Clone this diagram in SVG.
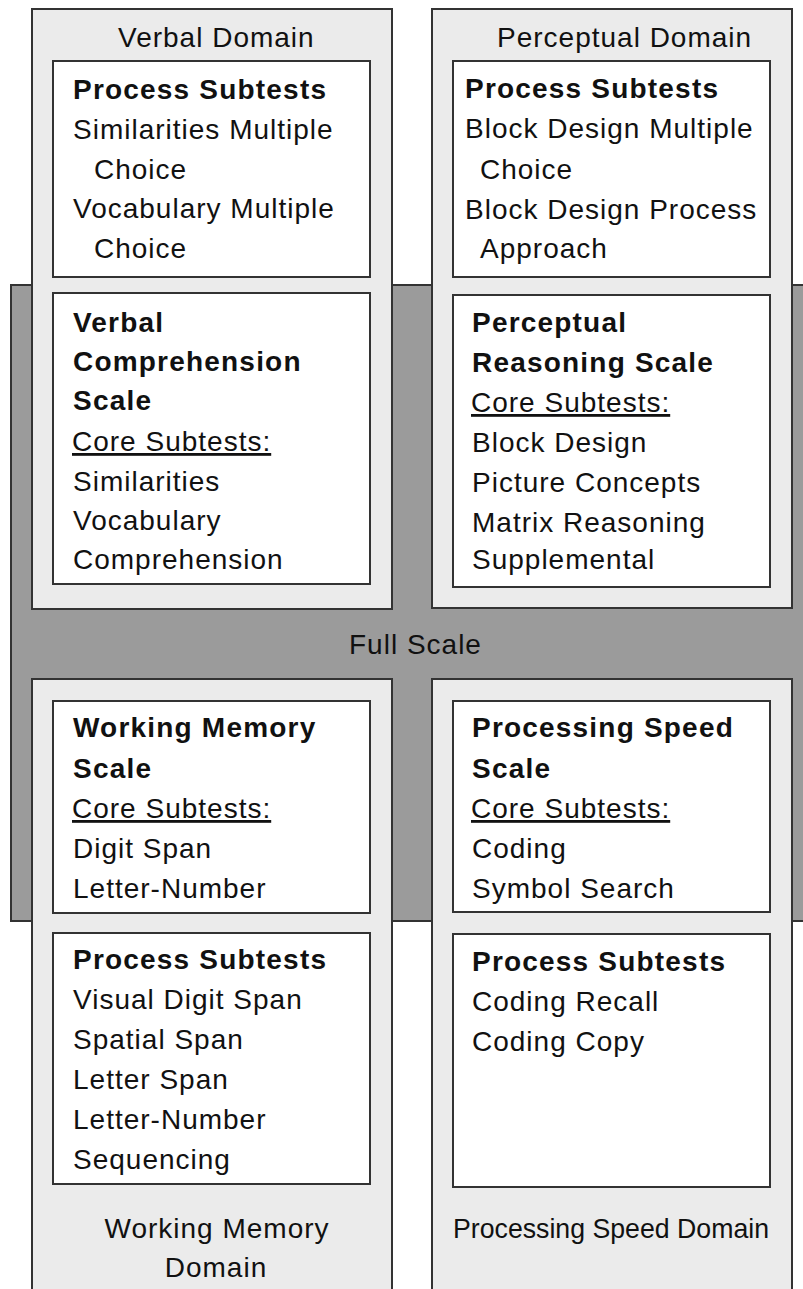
<svg xmlns="http://www.w3.org/2000/svg" width="803" height="1289" viewBox="0 0 803 1289">
  <style>
    text { font-family: "Liberation Sans", Arial, Helvetica, sans-serif; font-size: 28px; fill: #111; letter-spacing: 1px; }
    .b { font-weight: bold; letter-spacing: 1.2px; }
    .u { text-decoration: underline; }
    .band { fill: #9b9b9b; stroke: #333; stroke-width: 2; }
    .panel { fill: #ebebeb; stroke: #333; stroke-width: 2; }
    .box { fill: #fff; stroke: #333; stroke-width: 2; }
  </style>
  <rect width="803" height="1289" fill="#fff"/>

  <!-- Full scale band behind the four domains -->
  <g id="full-scale">
    <rect class="band" x="11" y="285" width="810" height="636"/>
    <text x="349" y="654">Full Scale</text>
  </g>

  <!-- Verbal domain -->
  <g id="verbal-domain">
    <rect class="panel" x="32" y="9" width="360" height="600"/>
    <text x="118" y="47">Verbal Domain</text>
    <g id="verbal-process">
      <rect class="box" x="53" y="61" width="317" height="216"/>
      <text class="b" x="73" y="99">Process Subtests</text>
      <text x="73" y="139">Similarities Multiple</text>
      <text x="94" y="179">Choice</text>
      <text x="73" y="218">Vocabulary Multiple</text>
      <text x="94" y="258">Choice</text>
    </g>
    <g id="verbal-scale">
      <rect class="box" x="53" y="293" width="317" height="291"/>
      <text class="b" x="73" y="332">Verbal</text>
      <text class="b" x="73" y="371">Comprehension</text>
      <text class="b" x="73" y="410">Scale</text>
      <text class="u" x="72" y="451">Core Subtests:</text>
      <text x="73" y="491">Similarities</text>
      <text x="73" y="530">Vocabulary</text>
      <text x="73" y="569">Comprehension</text>
    </g>
  </g>

  <!-- Perceptual domain -->
  <g id="perceptual-domain">
    <rect class="panel" x="432" y="9" width="360" height="599"/>
    <text x="497" y="47">Perceptual Domain</text>
    <g id="perceptual-process">
      <rect class="box" x="453" y="61" width="317" height="216"/>
      <text class="b" x="465" y="98">Process Subtests</text>
      <text x="465" y="138">Block Design Multiple</text>
      <text x="480" y="179">Choice</text>
      <text x="465" y="219">Block Design Process</text>
      <text x="480" y="258">Approach</text>
    </g>
    <g id="perceptual-scale">
      <rect class="box" x="453" y="295" width="317" height="292"/>
      <text class="b" x="472" y="332">Perceptual</text>
      <text class="b" x="472" y="372">Reasoning Scale</text>
      <text class="u" x="471" y="412">Core Subtests:</text>
      <text x="472" y="452">Block Design</text>
      <text x="472" y="492">Picture Concepts</text>
      <text x="472" y="532">Matrix Reasoning</text>
      <text x="472" y="569">Supplemental</text>
    </g>
  </g>

  <!-- Working memory domain -->
  <g id="working-memory-domain">
    <rect class="panel" x="32" y="679" width="360" height="630"/>
    <g id="working-memory-scale">
      <rect class="box" x="53" y="701" width="317" height="212"/>
      <text class="b" x="73" y="737">Working Memory</text>
      <text class="b" x="73" y="778">Scale</text>
      <text class="u" x="72" y="818">Core Subtests:</text>
      <text x="73" y="858">Digit Span</text>
      <text x="73" y="898">Letter-Number</text>
    </g>
    <g id="working-memory-process">
      <rect class="box" x="53" y="933" width="317" height="251"/>
      <text class="b" x="73" y="969">Process Subtests</text>
      <text x="73" y="1009">Visual Digit Span</text>
      <text x="73" y="1049">Spatial Span</text>
      <text x="73" y="1089">Letter Span</text>
      <text x="73" y="1129">Letter-Number</text>
      <text x="73" y="1169">Sequencing</text>
    </g>
    <text x="217" y="1238" text-anchor="middle">Working Memory</text>
    <text x="216" y="1277" text-anchor="middle">Domain</text>
  </g>

  <!-- Processing speed domain -->
  <g id="processing-speed-domain">
    <rect class="panel" x="432" y="679" width="360" height="630"/>
    <g id="processing-speed-scale">
      <rect class="box" x="453" y="701" width="317" height="211"/>
      <text class="b" x="472" y="737">Processing Speed</text>
      <text class="b" x="472" y="778">Scale</text>
      <text class="u" x="471" y="818">Core Subtests:</text>
      <text x="472" y="858">Coding</text>
      <text x="472" y="898">Symbol Search</text>
    </g>
    <g id="processing-speed-process">
      <rect class="box" x="453" y="934" width="317" height="253"/>
      <text class="b" x="472" y="971">Process Subtests</text>
      <text x="472" y="1011">Coding Recall</text>
      <text x="472" y="1051">Coding Copy</text>
    </g>
    <text x="453" y="1238" textLength="316" lengthAdjust="spacingAndGlyphs" style="letter-spacing:0">Processing Speed Domain</text>
  </g>
</svg>
